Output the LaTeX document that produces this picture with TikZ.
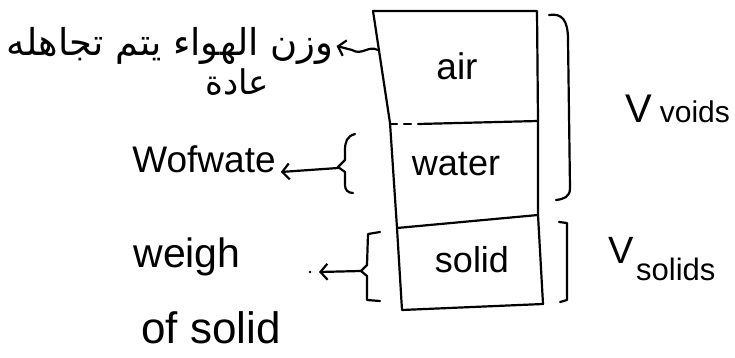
\documentclass[tikz,border=0pt]{standalone}
\usepackage{fontspec}
\setmainfont{Liberation Sans}
\newfontfamily\arabicfont[Script=Arabic]{DejaVu Sans}
\TeXXeTstate=1
\usetikzlibrary{arrows.meta}
\newcommand\fsz[1]{\fontsize{#1}{#1}\selectfont}
\begin{document}
\begin{tikzpicture}[x=1pt,y=-1pt,
  ink/.style={line width=2.2pt, line cap=round, line join=round},
  lbl/.style={inner sep=0pt},
  barb/.style={-{Straight Barb[length=7pt,width=16pt,line width=2.2pt]}}]
\useasboundingbox (0,0) rectangle (735,358);
% box
\draw[ink] (373,11) -- (537,11) -- (538,121) -- (538,215) -- (543,304) -- (402,310) -- (397,228) -- (390,123) -- cycle;
\draw[ink] (390,124) -- (397,124);
\draw[ink] (404,124) -- (411,124);
\draw[ink] (418,124) -- (538,121);
\draw[ink] (397,228) -- (538,215);
% box labels
\node[lbl, font=\fsz{37}] (air) at (457,66) {air};
\node[lbl, font=\fsz{36}] (water) at (456,164) {water};
\node[lbl, font=\fsz{36}] (solid) at (472,260) {solid};
% right brackets
\draw[ink] (549,15) .. controls (562,13) and (568,20) .. (568,40) -- (570,188) .. controls (570,197) and (564,199) .. (556,200);
\draw[ink] (559,222) -- (567,223) -- (567,300) -- (560,302);
\node[lbl, anchor=base west] (vv) at (625,123) {\fsz{40}V\hspace{8pt}\fsz{30}voids};
\node[lbl, anchor=base west, font=\fsz{38}] (vs) at (608,263) {V};
\node[lbl, anchor=base west, font=\fsz{31}] (vss) at (636,280) {solids};
% left braces
\draw[ink] (355,134) .. controls (347,136) and (345,142) .. (345,150) -- (345,160) -- (338,167) -- (345,172) -- (345,185) .. controls (345,190) and (348,193) .. (353,193);
\coordinate (bw) at (338,168);
\draw[ink] (380,232) -- (368,234) -- (367,265) -- (361,271) -- (367,276) -- (367,300) -- (380,301);
\coordinate (bs) at (361,271);
% left labels
\node[lbl, font=\fsz{37}, anchor=base] (wofw) at (204,172) {Wofwate};
\draw[ink, barb] (bw) -- ([xshift=5pt]wofw.base east);
\node[lbl, font=\fsz{41}] (weigh) at (187,257) {weigh};
\node[lbl, font=\fsz{44}] (ofsolid) at (211,328) {of solid};
\coordinate (ws) at (319,272);
\draw[ink, barb] (bs) -- (ws);
\fill (310,272) circle (1.3pt);
% arabic note
\node[lbl, font=\arabicfont\fsz{37}] (ar1) at (170,46) {\beginR وزن الهواء يتم تجاهله\endR};
\node[lbl, font=\arabicfont\fsz{34}] (ar2) at (237,82) {\beginR عادة\endR};
\coordinate (airl) at (378,50);
\draw[ink, barb] (airl) .. controls (368,45) and (362,56) .. (352,50) -- ([xshift=3pt]ar1.east);
\end{tikzpicture}
\end{document}
